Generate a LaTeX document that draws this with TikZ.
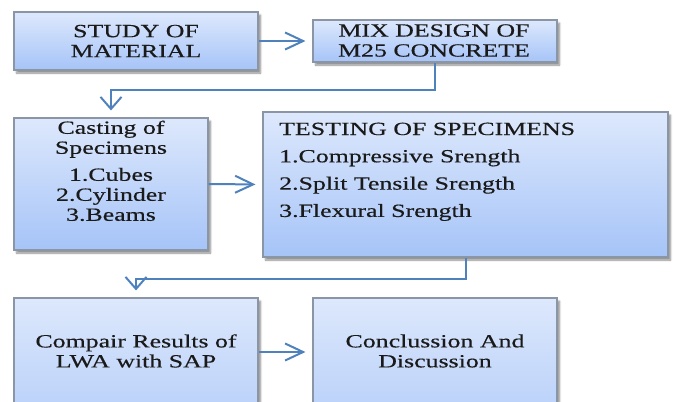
\documentclass[tikz,border=0pt]{standalone}
\usepackage{fontspec}
\setmainfont[FakeStretch=1.39,FakeBold=0.4]{Liberation Serif}
\usetikzlibrary{arrows.meta,shadows.blur}
\definecolor{boxtop}{HTML}{DDE8FC}
\definecolor{boxbot}{HTML}{A6C4F8}
\definecolor{boxline}{HTML}{8A96A6}
\definecolor{flow}{HTML}{4F81BD}
\definecolor{ink}{HTML}{1A1A1A}
\begin{document}
\begin{tikzpicture}[x=1pt,y=-1pt,
  stepbox/.style={draw=boxline, line width=1.1pt, top color=boxtop, bottom color=boxbot,
    inner sep=0pt,
    blur shadow={shadow xshift=2.5pt, shadow yshift=-3pt, shadow blur steps=6, shadow opacity=45}},
  steptext/.style={inner sep=0pt, text=ink, font=\fontsize{18.6}{20}\selectfont},
  harrow/.style={draw=flow, line width=2pt, shorten >=7pt,
    -{Straight Barb[length=18pt, width=17pt]}},
  varrow/.style={draw=flow, line width=2pt, shorten >=7pt,
    -{Straight Barb[length=12pt, width=21pt]}}]
\useasboundingbox (0,0) rectangle (673,402);
\clip (0,0) rectangle (673,402);

% boxes
\node[stepbox, minimum width=244pt, minimum height=58pt]  (b1) at (136,41) {};
\node[stepbox, minimum width=244pt, minimum height=42pt]  (b2) at (435,41) {};
\node[stepbox, minimum width=194pt, minimum height=132pt] (b3) at (111,184) {};
\node[stepbox, minimum width=405pt, minimum height=145pt] (b4) at (465.5,184.5) {};
\node[stepbox, minimum width=244pt, minimum height=180pt] (b5) at (136,388) {};
\node[stepbox, minimum width=244pt, minimum height=180pt] (b6) at (435,388) {};

% labels
\node[steptext, align=center] (t1) at (136,41) {STUDY OF\\MATERIAL};
\node[steptext, align=center] (t2) at (434,40.5) {MIX DESIGN OF\\M25 CONCRETE};
\node[steptext, align=center, anchor=north] (t3) at (111,120.5)
  {Casting of\\Specimens\\[7pt]1.Cubes\\2.Cylinder\\3.Beams};
\node[steptext, align=left, anchor=north west, font=\fontsize{18.6}{27.3}\selectfont] (t4) at (279,122.5)
  {TESTING OF SPECIMENS\\1.Compressive Srength\\2.Split Tensile Srength\\3.Flexural Srength};
\node[steptext, align=center] (t5) at (136,351) {Compair Results of\\LWA with SAP};
\node[steptext, align=center] (t6) at (435,351) {Conclussion And\\Discussion};

% connectors
\draw[harrow] (b1.east) -- (b2.west);
\draw[varrow] (b2.south) -- ++(0,27) -| (b3.north);
\draw[harrow] (b3.east) -- (b4.west);
\draw[varrow] (b4.south) -- ++(0,21) -| (b5.north);
\draw[harrow] (b5.east |- 0,352) -- (b6.west |- 0,352);
\end{tikzpicture}
\end{document}
